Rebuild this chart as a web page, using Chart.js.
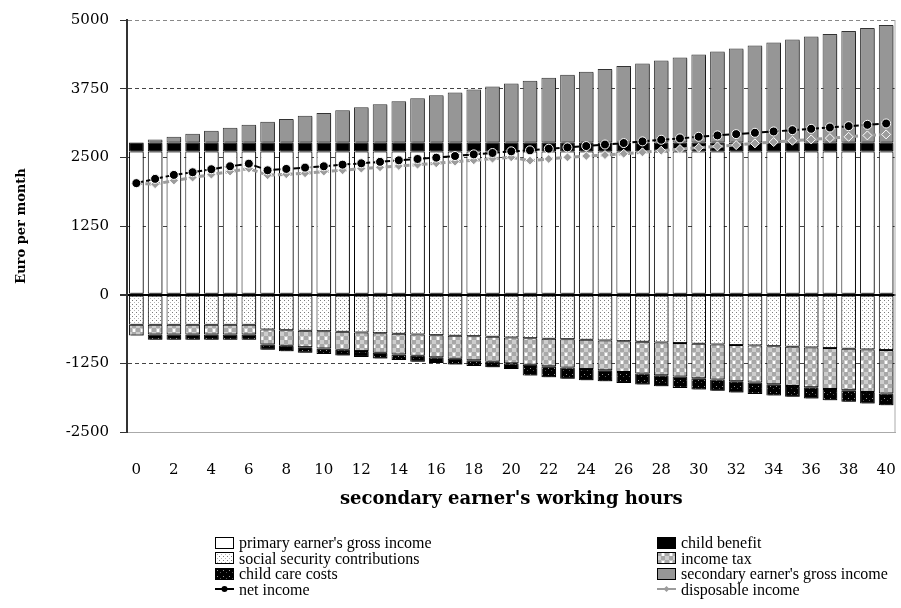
<!DOCTYPE html>
<html lang="en">
<head>
<meta charset="UTF-8">
<title>Household income and secondary earner's working hours</title>
<script src="https://cdn.jsdelivr.net/npm/chart.js"></script>
<style>
  body { margin: 0; background: #fff; }
  .wrap { position: relative; width: 901px; height: 608px; }
  #legend {
    position: absolute; left: 215px; top: 535px;
    display: grid; grid-template-columns: 442px auto;
    font-family: "Liberation Serif", serif; font-size: 16px; line-height: 15.5px; color: #000;
  }
  .item { display: flex; align-items: center; white-space: nowrap; height: 15.5px; }
  .item canvas { margin-right: 5px; }
</style>
</head>
<body>
<div class="wrap">
  <canvas id="chart" width="901" height="608"></canvas>
  <div id="legend"></div>
</div>
<script>
// secondary earner's working hours per week
const hours = ['0','1','2','3','4','5','6','7','8','9','10','11','12','13','14','15','16','17','18','19','20',
  '21','22','23','24','25','26','27','28','29','30','31','32','33','34','35','36','37','38','39','40'];

// euro per month
const primaryGross = [2605,2605,2605,2605,2605,2605,2605,2605,2605,2605,2605,2605,2605,2605,2605,2605,2605,2605,2605,2605,2605,
  2605,2605,2605,2605,2605,2605,2605,2605,2605,2605,2605,2605,2605,2605,2605,2605,2605,2605,2605,2605];
const childBenefit = [165,165,165,165,165,165,165,165,165,165,165,165,165,165,165,165,165,165,165,165,165,
  165,165,165,165,165,165,165,165,165,165,165,165,165,165,165,165,165,165,165,165];
const secondaryGross = [0,56,104,158,213,267,322,376,430,485,539,587,642,696,750,804,858,912,965,1019,1073,
  1126,1180,1233,1287,1336,1391,1439,1493,1548,1602,1656,1710,1765,1819,1873,1928,1976,2031,2085,2139];
const socialSecurity = [-549,-549,-549,-549,-549,-549,-549,-634,-647,-658,-665,-676,-688,-701,-712,-725,-737,-748,-755,-766,-779,
  -792,-803,-810,-821,-833,-846,-857,-870,-882,-893,-906,-918,-924,-937,-947,-960,-973,-984,-996,-1009];
const incomeTax = [-194,-176,-176,-176,-176,-176,-176,-272,-283,-297,-313,-326,-339,-356,-375,-386,-404,-417,-440,-453,-471,
  -482,-502,-518,-533,-543,-562,-580,-598,-609,-629,-639,-658,-676,-694,-714,-725,-743,-755,-774,-790];
const childCare = [0,-96,-96,-96,-96,-96,-96,-96,-98,-101,-103,-106,-106,-106,-103,-108,-103,-106,-103,-103,-103,
  -199,-197,-204,-205,-199,-199,-199,-199,-206,-205,-206,-205,-206,-205,-199,-205,-205,-212,-210,-212];
const netIncome = [2030,2108,2180,2228,2283,2337,2385,2264,2289,2313,2337,2367,2391,2418,2446,2470,2494,2524,2554,2579,2609,
  2627,2657,2681,2705,2733,2760,2790,2820,2844,2874,2899,2923,2947,2971,2995,3019,3043,3068,3092,3116];
const disposableIncome = [2030,2011,2078,2132,2186,2241,2295,2174,2192,2210,2241,2264,2295,2319,2343,2367,2391,2421,2446,2476,2500,
  2440,2470,2500,2524,2542,2566,2591,2621,2651,2675,2699,2723,2754,2778,2802,2826,2850,2874,2899,2917];

const yTicks = [-2500, -1250, 0, 1250, 2500, 3750, 5000];

const canvas = document.getElementById('chart');
const ctx = canvas.getContext('2d');

// small tiles for the hatched fills
function makePattern(w, h, draw) {
  const c = document.createElement('canvas');
  c.width = w; c.height = h;
  draw(c.getContext('2d'));
  return ctx.createPattern(c, 'repeat');
}
const dotFill = makePattern(4, 4, g => {
  g.fillStyle = '#fff'; g.fillRect(0, 0, 4, 4);
  g.fillStyle = '#7a7a7a'; g.fillRect(0, 0, 1, 1);
  g.fillStyle = '#b5b5b5'; g.fillRect(2, 2, 1, 1);
});
const checkFill = makePattern(8, 8, g => {
  g.fillStyle = '#cdcdcd'; g.fillRect(0, 0, 8, 8);
  g.fillStyle = '#a8a8a8'; g.fillRect(0, 0, 4, 4); g.fillRect(4, 4, 4, 4);
  g.fillStyle = '#fff'; g.fillRect(5, 1, 2, 3);
});
const darkDotFill = makePattern(6, 6, g => {
  g.fillStyle = '#000'; g.fillRect(0, 0, 6, 6);
  g.fillStyle = '#9a9a9a'; g.fillRect(2, 2, 1, 1);
  g.fillStyle = '#555'; g.fillRect(5, 4, 1, 1);
});

const GREY = '#969696';
const LINE_GREY = '#9c9c9c';

// gray drop shadow on the right of each bar
const barShadow = {
  id: 'barShadow',
  beforeDatasetDraw(chart, args) {
    if (args.meta.type !== 'bar') return;
    chart.ctx.save();
    chart.ctx.shadowColor = 'rgba(0,0,0,0.45)';
    chart.ctx.shadowOffsetX = 2;
    chart.ctx.shadowOffsetY = 1;
  },
  afterDatasetDraw(chart, args) {
    if (args.meta.type === 'bar') chart.ctx.restore();
  }
};

// light frame line on the right side of the plot
const rightEdge = {
  id: 'rightEdge',
  beforeDatasetsDraw(chart) {
    const { ctx: c, chartArea: a } = chart;
    c.save();
    c.strokeStyle = '#aaa';
    c.lineWidth = 1;
    c.beginPath();
    c.moveTo(a.right - 0.5, a.top);
    c.lineTo(a.right - 0.5, a.bottom);
    c.stroke();
    c.restore();
  }
};

function barSet(label, data, fill, border) {
  return {
    type: 'bar', label, data, stack: 'bars', order: 1,
    backgroundColor: fill, borderColor: border || '#000', borderWidth: 1, borderSkipped: false,
    categoryPercentage: 1, barPercentage: 0.78
  };
}

const serif = '"DejaVu Serif", "Liberation Serif", serif';

new Chart(ctx, {
  type: 'bar',
  data: {
    labels: hours,
    datasets: [
      {
        type: 'line', label: 'net income', data: netIncome, stack: 'net', order: 0,
        borderColor: '#000', borderWidth: 2, borderDash: [7, 3],
        pointStyle: 'circle', pointRadius: 4.5, pointBackgroundColor: '#000',
        pointBorderColor: '#fff', pointBorderWidth: 1, tension: 0
      },
      {
        type: 'line', label: 'disposable income', data: disposableIncome, stack: 'disp', order: 0,
        borderColor: LINE_GREY, borderWidth: 3, borderDash: [6, 3],
        pointStyle: 'rectRot', pointRadius: 4.5, pointBackgroundColor: LINE_GREY,
        pointBorderColor: '#fff', pointBorderWidth: 1, tension: 0
      },
      barSet("primary earner's gross income", primaryGross, '#fff'),
      barSet('child benefit', childBenefit, '#000'),
      barSet("secondary earner's gross income", secondaryGross, GREY, '#333'),
      barSet('social security contributions', socialSecurity, dotFill),
      barSet('income tax', incomeTax, checkFill),
      barSet('child care costs', childCare, darkDotFill)
    ]
  },
  options: {
    responsive: false,
    animation: false,
    devicePixelRatio: 1,
    layout: { padding: { left: 0, right: 0, top: 18, bottom: 96 } },
    plugins: { legend: { display: false }, tooltip: { enabled: false } },
    scales: {
      x: {
        stacked: true,
        // invisible tick marks push the labels down without widening the side padding
        grid: { display: true, drawOnChartArea: false, drawTicks: true, tickLength: 29, tickColor: 'rgba(0,0,0,0)' },
        border: { color: '#aaa', width: 1 },
        ticks: {
          autoSkip: false, maxRotation: 0, padding: 0,
          font: { family: serif, size: 15 }, color: '#000',
          callback: (v, i) => (i % 2 === 0 ? hours[i] : '')
        },
        title: {
          display: true, text: "secondary earner's working hours",
          font: { family: serif, size: 18, weight: 'bold' }, color: '#000',
          padding: { top: 0, bottom: 2 }
        },
        afterFit: s => { s.height = 80; }
      },
      y: {
        stacked: true,
        min: -2500, max: 5000,
        afterBuildTicks: s => { s.ticks = yTicks.map(v => ({ value: v })); },
        grid: {
          color: c => (c.tick.value === 0 ? '#000' : c.tick.value === -2500 ? '#aaa' : c.tick.value === 5000 ? '#888' : '#444'),
          lineWidth: c => (c.tick.value === 0 ? 2 : 1),
          tickLength: 7, tickColor: '#333'
        },
        border: {
          color: '#333', width: 2,
          dash: c => (c.tick && (c.tick.value === 0 || c.tick.value === -2500) ? [] : [4, 3])
        },
        ticks: {
          padding: 11, font: { family: serif, size: 15 }, color: '#000',
          callback: v => String(v)
        },
        title: {
          display: true, text: 'Euro per month',
          font: { family: serif, size: 13, weight: 'bold' }, color: '#000',
          padding: { top: 14, bottom: 0 }
        },
        afterFit: s => { s.width = 127; }
      }
    }
  },
  plugins: [barShadow, rightEdge]
});

// HTML legend, two columns
const legendItems = [
  { text: "primary earner's gross income", kind: 'box', fill: '#fff' },
  { text: 'child benefit', kind: 'box', fill: '#000' },
  { text: 'social security contributions', kind: 'box', fill: dotFill },
  { text: 'income tax', kind: 'box', fill: checkFill },
  { text: 'child care costs', kind: 'box', fill: darkDotFill },
  { text: "secondary earner's gross income", kind: 'box', fill: GREY },
  { text: 'net income', kind: 'line', color: '#000', marker: 'circle' },
  { text: 'disposable income', kind: 'line', color: LINE_GREY, marker: 'diamond' }
];
const legend = document.getElementById('legend');
legendItems.forEach(it => {
  const row = document.createElement('div');
  row.className = 'item';
  const sw = document.createElement('canvas');
  sw.width = 19; sw.height = 12;
  const g = sw.getContext('2d');
  if (it.kind === 'box') {
    g.fillStyle = it.fill; g.fillRect(0.5, 0.5, 18, 11);
    g.strokeStyle = '#000'; g.lineWidth = 1; g.strokeRect(0.5, 0.5, 18, 11);
  } else {
    g.strokeStyle = it.color; g.lineWidth = 2;
    g.beginPath(); g.moveTo(0, 6); g.lineTo(19, 6); g.stroke();
    g.fillStyle = it.color;
    g.beginPath();
    if (it.marker === 'circle') g.arc(9.5, 6, 3, 0, Math.PI * 2);
    else { g.moveTo(9.5, 3); g.lineTo(12.5, 6); g.lineTo(9.5, 9); g.lineTo(6.5, 6); g.closePath(); }
    g.fill();
  }
  row.appendChild(sw);
  row.appendChild(document.createTextNode(it.text));
  legend.appendChild(row);
});
</script>
</body>
</html>
